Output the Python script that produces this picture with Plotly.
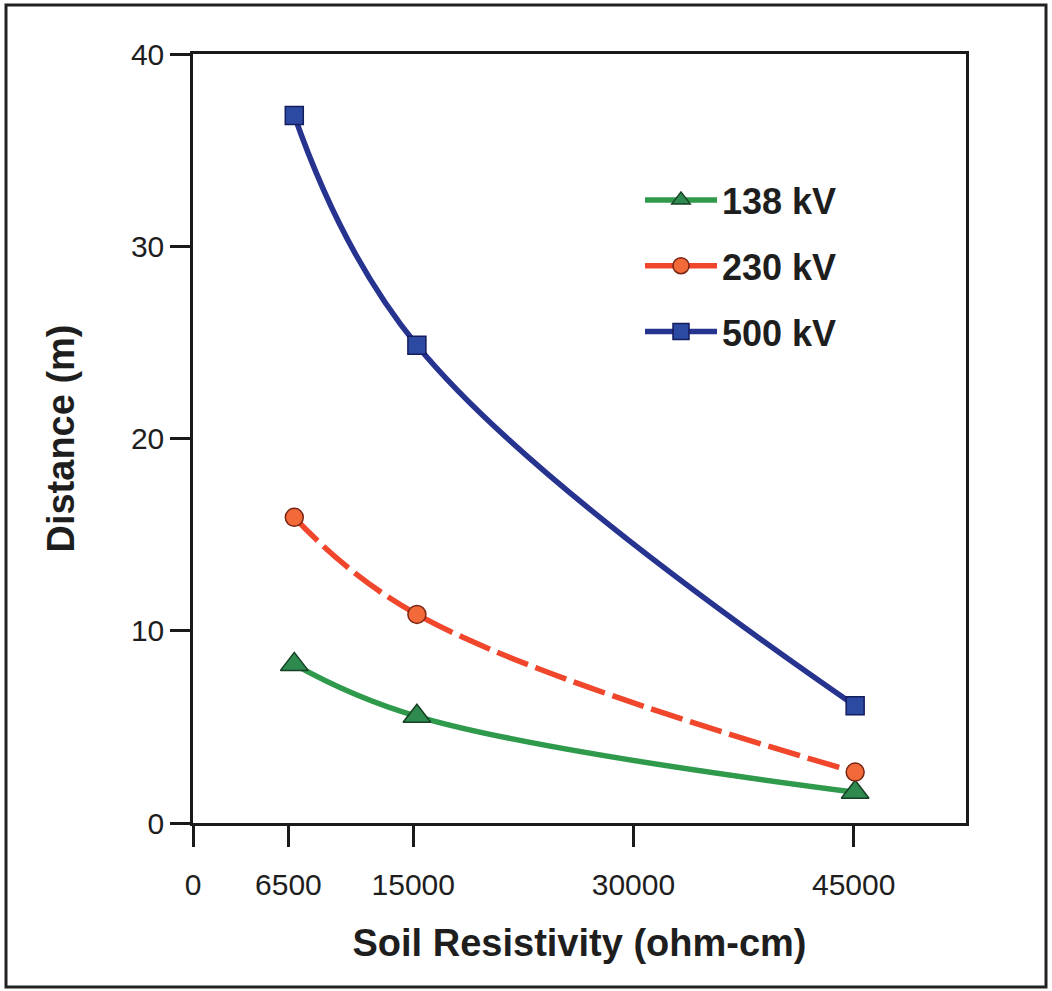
import plotly.graph_objects as go

# Soil resistivity (ohm-cm) at which each distance was evaluated
resistivity = [6900, 15250, 45100]

# Required distance (m) per line voltage
dist_138 = [8.25, 5.55, 1.6]
dist_230 = [15.9, 10.85, 2.65]
dist_500 = [36.8, 24.85, 6.1]

x_ticks = [0, 6500, 15000, 30000, 45000]
y_ticks = [0, 10, 20, 30, 40]

series = [
    ("138 kV", dist_138, "#2f9a4c", "solid", "triangle-up", 24, "#2e8a4e", "#173f24"),
    ("230 kV", dist_230, "#f0462c", "33px,8px", "circle", 18, "#f26a3a", "#7a2414"),
    ("500 kV", dist_500, "#26338f", "solid", "square", 18, "#2c4aa2", "#141d5e"),
]

fig = go.Figure()
for i, (name, ys, lc, dash, sym, size, fc, ec) in enumerate(series):
    fig.add_trace(go.Scatter(
        x=resistivity, y=ys, name=name, mode="lines+markers",
        legendgroup=f"g{i}",
        line=dict(color=lc, width=5.5, dash=dash, shape="spline", smoothing=1.15),
        marker=dict(symbol=sym, size=size, color=fc, line=dict(color=ec, width=1.5)),
    ))

W, H = 1052, 991
ML, MR, MT, MB = 193, 86, 54, 168
pw, ph = W - ML - MR, H - MT - MB


def px_x(p):
    return (p - ML) / pw


def px_y(p):
    return (H - MB - p) / ph


axis_font = dict(family="Liberation Sans, Arial, sans-serif", size=30, color="#1e1e1e")
title_font = dict(family="Liberation Sans, Arial, sans-serif", size=38, color="#1e1e1e", weight="bold")

fig.update_layout(
    width=W, height=H,
    margin=dict(l=ML, r=MR, t=MT, b=MB, autoexpand=False),
    paper_bgcolor="white", plot_bgcolor="white",
    xaxis=dict(
        range=[0, 52650], tickvals=x_ticks, ticktext=[str(v) for v in x_ticks],
        showgrid=False, zeroline=False, showline=True, linecolor="#1a1a1a", linewidth=2.5,
        mirror=True, ticks="outside", ticklen=21, tickwidth=2.5, tickcolor="#1a1a1a",
        tickfont=axis_font, ticklabelstandoff=12,
        title=dict(text="Soil Resistivity (ohm-cm)", font=title_font, standoff=30),
    ),
    yaxis=dict(
        range=[0, 40], tickvals=y_ticks,
        showgrid=False, zeroline=False, showline=True, linecolor="#1a1a1a", linewidth=2.5,
        mirror=True, ticks="outside", ticklen=20, tickwidth=2.5, tickcolor="#1a1a1a",
        tickfont=axis_font,
        title=dict(text="Distance (m)", font=title_font, standoff=45),
    ),
    legend=dict(
        x=px_x(640), y=px_y(170), xanchor="left", yanchor="top",
        font=dict(family="Liberation Sans, Arial, sans-serif", size=36, color="#1e1e1e", weight="bold"),
        itemwidth=72, tracegroupgap=16, traceorder="grouped",
        bgcolor="rgba(0,0,0,0)",
    ),
    showlegend=True,
    shapes=[dict(
        type="rect", xref="paper", yref="paper",
        x0=px_x(6), x1=px_x(1046), y0=px_y(987), y1=px_y(5),
        line=dict(color="#222222", width=3), fillcolor="rgba(0,0,0,0)", layer="below",
    )],
)

fig.write_html("out.html")
